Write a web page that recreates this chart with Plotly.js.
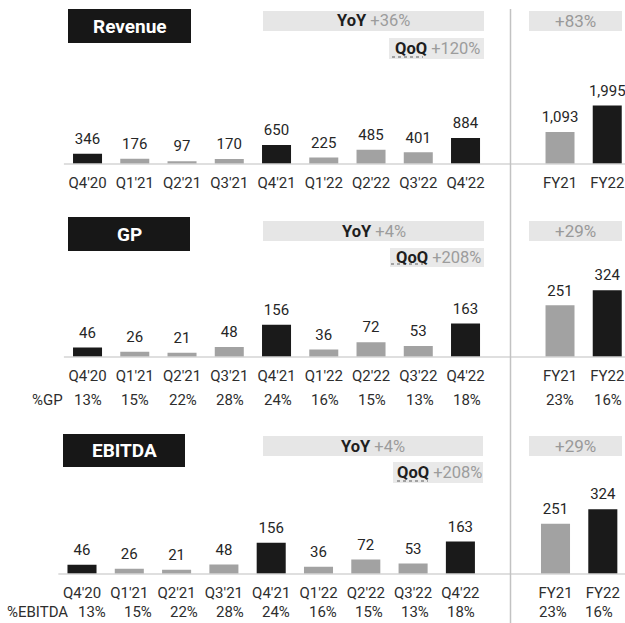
<!DOCTYPE html>
<html><head><meta charset="utf-8">
<script src="https://cdn.plot.ly/plotly-3.0.1.min.js"></script>
<style>html,body{margin:0;padding:0;background:#fff;}#chart{width:625px;height:623px;}</style>
</head><body><div id="chart"></div>
<script>
// ---------- data ----------
const quarters = ["Q4'20","Q1'21","Q2'21","Q3'21","Q4'21","Q1'22","Q2'22","Q3'22","Q4'22"];
const years = ["FY21","FY22"];
const revenueQ = [346,176,97,170,650,225,485,401,884];
const revenueFY = [1093,1995];
const gpQ = [46,26,21,48,156,36,72,53,163];
const gpFY = [251,324];
const ebitdaQ = [46,26,21,48,156,36,72,53,163];
const ebitdaFY = [251,324];
const gpPctQ = ["13%","15%","22%","28%","24%","16%","15%","13%","18%"];
const gpPctFY = ["23%","16%"];
const ebitdaPctQ = ["13%","15%","22%","28%","24%","16%","15%","13%","18%"];
const ebitdaPctFY = ["23%","16%"];
const panelTitles = ["Revenue","GP","EBITDA"];
const yoyText = ["+36%","+4%","+4%"];
const qoqText = ["+120%","+208%","+208%"];
const fyText = ["+83%","+29%","+29%"];
const pctRowLabels = [null,"%GP","%EBITDA"];

// ---------- styling / geometry (pixels) ----------
const W = 625, H = 623;
const px = v => v / W, py = v => 1 - v / H;
const FONT = 'Roboto, "Noto Sans", sans-serif';
const BLACK = '#1a1a1a', GREY = '#a2a2a2', TXT = '#262626';
const geo = [
  {base:164, h:120, R:4096, l0:63.9, slot:47.25, r0:536.4, rmax:1.376,
   title:[68,191,9,43], yoy:[263,484,11,31], qoq:[389,484,38,59], fy:[529,622,11,31], ul:[392,423,57],
   pctY:null, pctLX:null, pctL:null, pctR:null},
  {base:357, h:100, R:485, l0:63.9, slot:47.25, r0:536.4, rmax:1.376,
   title:[68,190,217,251], yoy:[263,484,221,241], qoq:[390,484,248,267], fy:[529,622,221,241], ul:[391,423,264],
   pctY:400, pctLX:47, pctL:[88,47.4], pctR:[560,47.5]},
  {base:574, h:100, R:500, l0:58.35, slot:47.3, r0:531.85, rmax:1.469,
   title:[63,185,434,467], yoy:[263,483,436,456], qoq:[393,483,462,483], fy:[529,622,436,456], ul:[397,428,481],
   pctY:612, pctLX:37, pctL:[92,46.1], pctR:[553,46]}
];
const qVals = [revenueQ, gpQ, ebitdaQ];
const fyVals = [revenueFY, gpFY, ebitdaFY];
const qPct = [null, gpPctQ, ebitdaPctQ];
const fyPct = [null, gpPctFY, ebitdaPctFY];

const isDark = c => c.startsWith("Q4") || c === "FY22";
const fmt = v => v.toLocaleString('en-US');

const data = [];
const layout = {
  width: W, height: H, margin: {l:0, r:0, t:0, b:0},
  paper_bgcolor: '#fff', plot_bgcolor: 'rgba(0,0,0,0)',
  showlegend: false, bargap: 0.386,
  font: {family: FONT, color: TXT},
  shapes: [], annotations: []
};

geo.forEach((g, p) => {
  const yName = p === 0 ? 'y' : 'y' + (p + 1);
  const xl = 'x' + (p === 0 ? '' : (2 * p + 1));
  const xr = 'x' + (2 * p + 2);
  const xlKey = 'xaxis' + (p === 0 ? '' : (2 * p + 1));
  const xrKey = 'xaxis' + (2 * p + 2);
  const yKey = 'yaxis' + (p === 0 ? '' : (p + 1));
  const ax = {type:'category', showgrid:false, zeroline:false, showline:false,
    ticks:'outside', ticklen:5, tickcolor:'rgba(0,0,0,0)',
    tickfont:{family:FONT, size:15, color:'#2e2e2e'}, fixedrange:true, anchor:yName};
  layout[xlKey] = Object.assign({}, ax, {domain:[px(g.l0), px(g.l0 + 9 * g.slot)],
    categoryorder:'array', categoryarray:quarters, range:[-0.5, 8.5]});
  layout[xrKey] = Object.assign({}, ax, {domain:[px(g.r0), 1],
    categoryorder:'array', categoryarray:years, range:[-0.5, g.rmax]});
  layout[yKey] = {domain:[py(g.base), py(g.base - g.h)], range:[0, g.R], visible:false, fixedrange:true, anchor:xl};

  [[quarters, qVals[p], xl], [years, fyVals[p], xr]].forEach(([cats, vals, xa]) => {
    data.push({type:'bar', x:cats, y:vals, xaxis:xa, yaxis:yName,
      marker:{color:cats.map(c => isDark(c) ? BLACK : GREY)}, hoverinfo:'skip'});
    data.push({type:'scatter', mode:'markers+text', x:cats, y:vals, xaxis:xa, yaxis:yName,
      text:vals.map(fmt), textposition:'top center', cliponaxis:false,
      textfont:{family:FONT, size:15, color:TXT},
      marker:{size:8, color:'rgba(0,0,0,0)'}, hoverinfo:'skip'});
  });

  // baseline
  layout.shapes.push({type:'line', xref:'paper', yref:'paper', x0:px(g.l0), x1:1,
    y0:py(g.base), y1:py(g.base), line:{color:'#d4d4d4', width:1.5}});
  // boxes
  const rect = (b, color) => layout.shapes.push({type:'rect', xref:'paper', yref:'paper', layer:'below',
    x0:px(b[0]), x1:px(b[1]), y0:py(b[3]), y1:py(b[2]), fillcolor:color, line:{width:0}});
  rect(g.title, '#171717');
  rect(g.yoy, '#e6e6e6');
  rect(g.qoq, '#e9e9e9');
  rect(g.fy, '#e6e6e6');
  // dotted underline under QoQ
  layout.shapes.push({type:'line', xref:'paper', yref:'paper', x0:px(g.ul[0]), x1:px(g.ul[1]),
    y0:py(g.ul[2]), y1:py(g.ul[2]), line:{color:'#8a8a8a', width:1.5, dash:'dot'}});

  const ann = (x, y, text, size, color, extra) => layout.annotations.push(Object.assign({
    xref:'paper', yref:'paper', x:px(x), y:py(y), text:text, showarrow:false, borderpad:0,
    xanchor:'center', yanchor:'middle', font:{family:FONT, size:size, color:color}}, extra || {}));
  ann((g.title[0] + g.title[1]) / 2, (g.title[2] + g.title[3]) / 2, '<b>' + panelTitles[p] + '</b>', 19, '#fff');
  ann((g.yoy[0] + g.yoy[1]) / 2, (g.yoy[2] + g.yoy[3]) / 2,
    '<b>YoY</b> <span style="color:#9c9c9c">' + yoyText[p] + '</span>', 16.5, '#1e1e1e');
  ann((g.qoq[0] + g.qoq[1]) / 2 + 1, (g.qoq[2] + g.qoq[3]) / 2,
    '<b>QoQ</b> <span style="color:#9c9c9c">' + qoqText[p] + '</span>', 16.5, '#1e1e1e');
  ann((g.fy[0] + g.fy[1]) / 2, (g.fy[2] + g.fy[3]) / 2, fyText[p], 17, '#999');

  if (qPct[p]) {
    ann(g.pctLX, g.pctY, pctRowLabels[p], 15, '#2e2e2e');
    qPct[p].forEach((t, i) => ann(g.pctL[0] + i * g.pctL[1], g.pctY, t, 15, '#2e2e2e'));
    fyPct[p].forEach((t, i) => ann(g.pctR[0] + i * g.pctR[1], g.pctY, t, 15, '#2e2e2e'));
  }
});

// vertical divider
layout.shapes.push({type:'line', xref:'paper', yref:'paper', x0:px(510.5), x1:px(510.5),
  y0:py(9), y1:0, line:{color:'#c2c2c2', width:1.5}});

Plotly.newPlot('chart', data, layout, {displayModeBar:false, staticPlot:true});
</script>
</body></html>
